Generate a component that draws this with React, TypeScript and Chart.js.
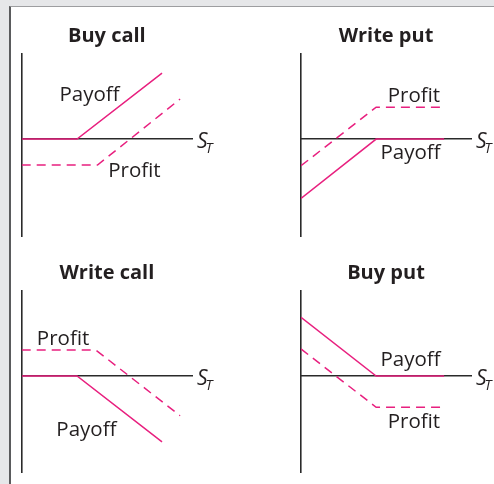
import React, { useEffect, useRef } from 'react';
import { Chart, registerables } from 'chart.js';

Chart.register(...registerables);

// ---- data ----
const titles = ['Buy call', 'Write put', 'Write call', 'Buy put'];

const buyCallPayoffX = [0, 3.25, 8.24];
const buyCallPayoffY = [0, 0, 3.88];
const buyCallProfitX = [0, 4.45, 9.3];
const buyCallProfitY = [-1.53, -1.53, 2.35];

const writePutPayoffX = [0, 4.42, 8.42];
const writePutPayoffY = [-3.49, 0, 0];
const writePutProfitX = [0, 4.42, 8.42];
const writePutProfitY = [-1.57, 1.87, 1.87];

const writeCallPayoffX = [0, 3.25, 8.24];
const writeCallPayoffY = [0, 0, -3.88];
const writeCallProfitX = [0, 4.35, 9.3];
const writeCallProfitY = [1.53, 1.53, -2.34];

const buyPutPayoffX = [0, 4.42, 8.42];
const buyPutPayoffY = [3.45, 0, 0];
const buyPutProfitX = [0, 4.42, 8.42];
const buyPutProfitY = [1.59, -1.84, -1.84];

const seriesNames = ['Payoff', 'Profit'];
const axisLabel = 'S';
const axisSub = 'T';

// label anchors (data coordinates, text baseline)
const buyCallLabels = [
  { text: 'Payoff', x: 3.98, y: 2.24 },
  { text: 'Profit', x: 6.62, y: -2.25 },
];
const writePutLabels = [
  { text: 'Profit', x: 6.64, y: 2.19 },
  { text: 'Payoff', x: 6.44, y: -1.19 },
];
const writeCallLabels = [
  { text: 'Profit', x: 2.43, y: 1.84 },
  { text: 'Payoff', x: 3.8, y: -3.55 },
];
const buyPutLabels = [
  { text: 'Payoff', x: 6.44, y: 0.59 },
  { text: 'Profit', x: 6.64, y: -3.08 },
];

const PINK = '#e8207f';
const AXIS = '#2a2a2a';
const TEXT = '#231f20';
const FONT = '"Open Sans", "Noto Sans", sans-serif';

const pts = (xs: number[], ys: number[]) => xs.map((v, i) => ({ x: v, y: ys[i] }));

const panels = [
  {
    title: titles[0],
    payoff: pts(buyCallPayoffX, buyCallPayoffY),
    profit: pts(buyCallProfitX, buyCallProfitY),
    labels: buyCallLabels,
    yMin: -5.7,
    box: { left: 12, top: 10, width: 232, height: 240 },
    pad: { left: 9.7, top: 44, right: 52, bottom: 14 },
  },
  {
    title: titles[1],
    payoff: pts(writePutPayoffX, writePutPayoffY),
    profit: pts(writePutProfitX, writePutProfitY),
    labels: writePutLabels,
    yMin: -5.7,
    box: { left: 256, top: 10, width: 238, height: 240 },
    pad: { left: 45, top: 44, right: 23, bottom: 14 },
  },
  {
    title: titles[2],
    payoff: pts(writeCallPayoffX, writeCallPayoffY),
    profit: pts(writeCallProfitX, writeCallProfitY),
    labels: writeCallLabels,
    yMin: -5.65,
    box: { left: 12, top: 250, width: 232, height: 234 },
    pad: { left: 9.7, top: 41, right: 52, bottom: 12 },
  },
  {
    title: titles[3],
    payoff: pts(buyPutPayoffX, buyPutPayoffY),
    profit: pts(buyPutProfitX, buyPutProfitY),
    labels: buyPutLabels,
    yMin: -5.65,
    box: { left: 256, top: 250, width: 238, height: 234 },
    pad: { left: 45, top: 41, right: 23, bottom: 12 },
  },
];

type Panel = (typeof panels)[number];

function OptionChart({ panel }: { panel: Panel }) {
  const ref = useRef<HTMLCanvasElement | null>(null);

  useEffect(() => {
    if (!ref.current) return;
    const textPlugin = {
      id: 'optionText',
      afterDraw(chart: any) {
        const { ctx, chartArea: ca, scales } = chart;
        const xs = scales.x;
        const ys = scales.y;
        ctx.save();
        ctx.fillStyle = TEXT;
        ctx.textBaseline = 'alphabetic';
        // title
        ctx.textAlign = 'center';
        ctx.font = `bold 20px ${FONT}`;
        ctx.fillText(panel.title, (ca.left + ca.right) / 2, ca.top - 12);
        // labels
        ctx.font = `20.5px ${FONT}`;
        panel.labels.forEach((l) => {
          ctx.fillText(l.text, xs.getPixelForValue(l.x), ys.getPixelForValue(l.y));
        });
        // axis label S_T
        const y0 = ys.getPixelForValue(0);
        ctx.textAlign = 'left';
        ctx.font = `italic 21px ${FONT}`;
        const sx = ca.right + 5;
        ctx.fillText(axisLabel, sx, y0 + 9.3);
        const w = ctx.measureText(axisLabel).width;
        ctx.font = `italic 14px ${FONT}`;
        ctx.fillText(axisSub, sx + w - 2, y0 + 14);
        ctx.restore();
      },
    };

    const hiddenGrid = { display: false, drawTicks: false, tickLength: 0 };

    const chart = new Chart(ref.current, {
      type: 'line',
      data: {
        datasets: [
          {
            label: seriesNames[0],
            data: panel.payoff,
            borderColor: PINK,
            borderWidth: 1.5,
            pointRadius: 0,
            tension: 0,
            fill: false,
          },
          {
            label: seriesNames[1],
            data: panel.profit,
            borderColor: PINK,
            borderWidth: 1.5,
            borderDash: [9, 6],
            pointRadius: 0,
            tension: 0,
            fill: false,
          },
        ],
      },
      options: {
        animation: false,
        responsive: false,
        devicePixelRatio: 1,
        layout: { padding: panel.pad },
        plugins: {
          legend: { display: false },
          tooltip: { enabled: false },
          title: { display: false },
        },
        scales: {
          x: {
            type: 'linear',
            min: 0,
            max: 10,
            position: { y: 0 } as any,
            grid: hiddenGrid,
            ticks: { display: false },
            border: { display: true, color: AXIS, width: 1.6 },
            afterFit: (s: any) => {
              s.height = 0;
            },
          },
          y: {
            type: 'linear',
            min: panel.yMin,
            max: 5,
            grid: hiddenGrid,
            ticks: { display: false },
            border: { display: true, color: AXIS, width: 1.6 },
            afterFit: (s: any) => {
              s.width = 0;
            },
          },
        },
      },
      plugins: [textPlugin],
    });
    return () => chart.destroy();
  }, [panel]);

  const { left, top, width, height } = panel.box;
  return (
    <canvas
      ref={ref}
      width={width}
      height={height}
      style={{ position: 'absolute', left, top, width, height }}
    />
  );
}

export default function App() {
  return (
    <div
      style={{
        position: 'fixed',
        left: 0,
        top: 0,
        width: 494,
        height: 484,
        overflow: 'hidden',
        background: '#e6e7e9',
      }}
    >
      <div
        style={{
          position: 'absolute',
          left: 9,
          top: 6,
          width: 500,
          height: 500,
          background: '#ffffff',
          borderLeft: '2px solid #5a5b5d',
          borderTop: '1px solid #9d9ea0',
        }}
      />
      {panels.map((p) => (
        <OptionChart key={p.title} panel={p} />
      ))}
    </div>
  );
}
